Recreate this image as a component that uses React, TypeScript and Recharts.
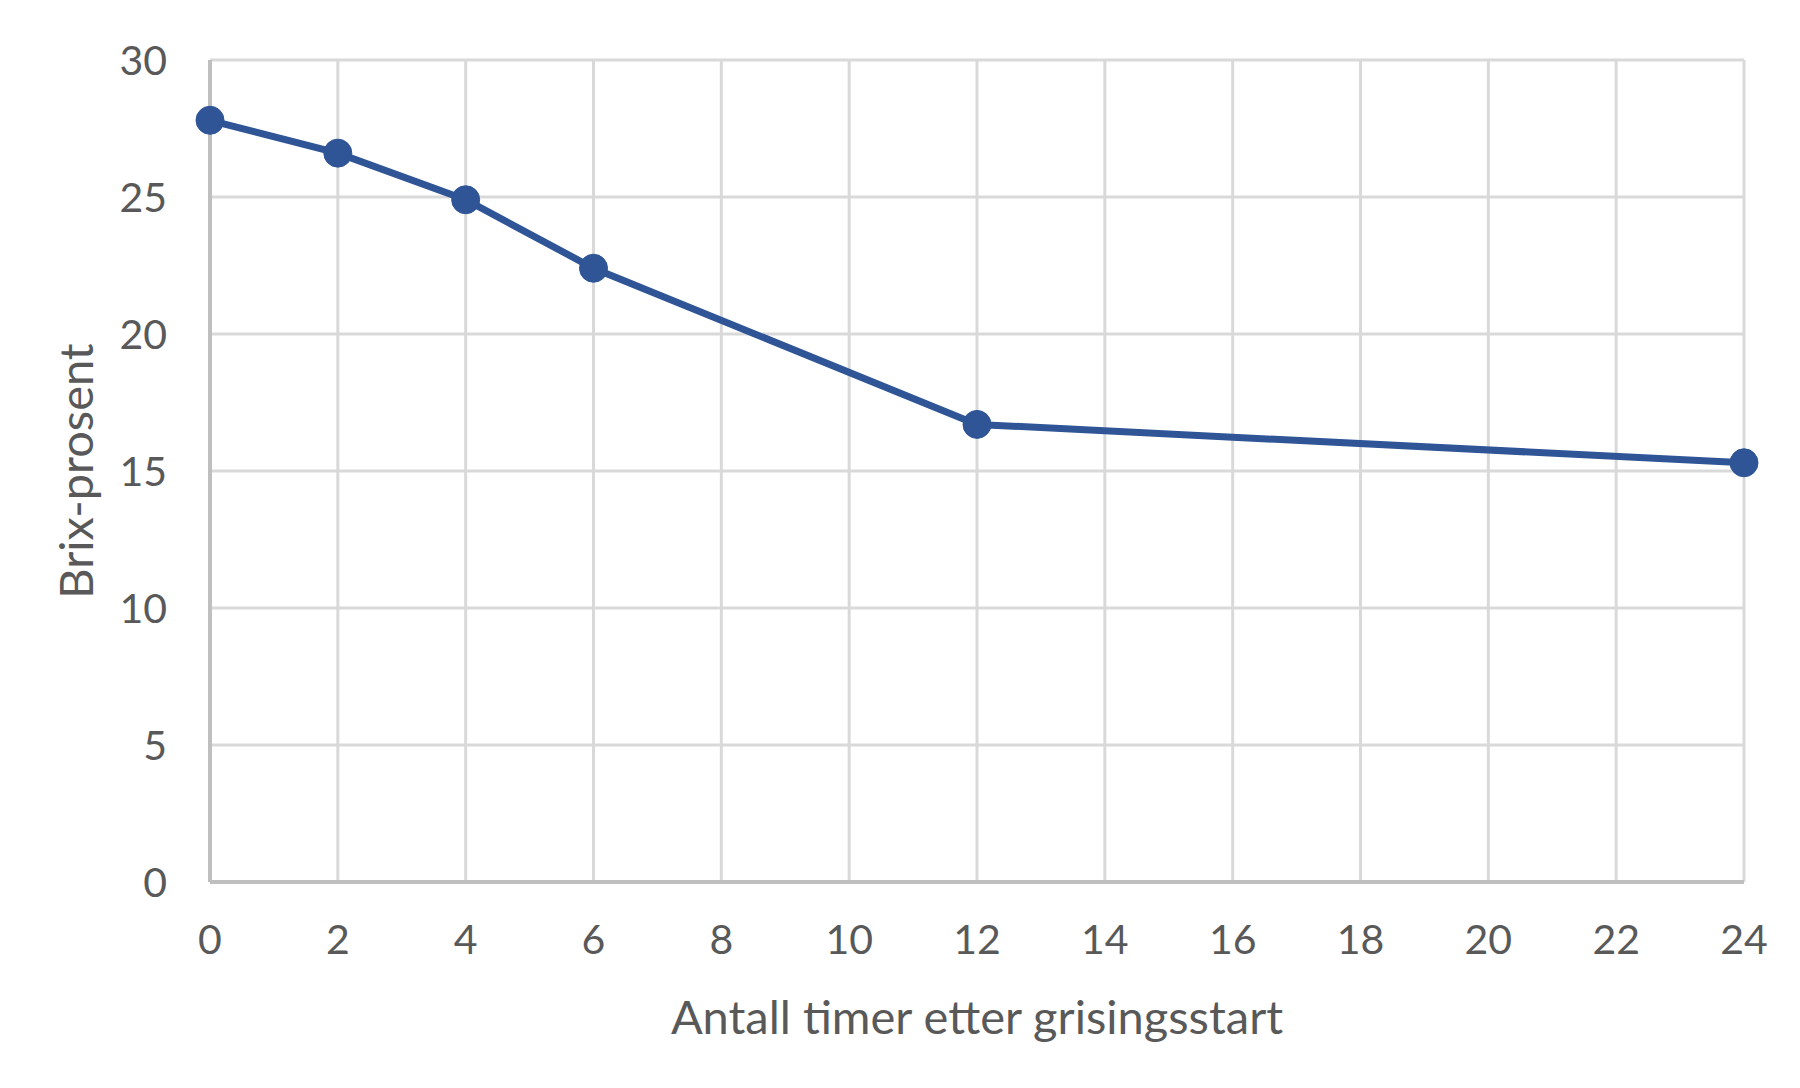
import { LineChart, Line, XAxis, YAxis, CartesianGrid, Label } from 'recharts';

const hours = [0, 2, 4, 6, 12, 24];
const brix = [27.8, 26.6, 24.9, 22.4, 16.7, 15.3];
const xTicks = [0, 2, 4, 6, 8, 10, 12, 14, 16, 18, 20, 22, 24];
const yTicks = [0, 5, 10, 15, 20, 25, 30];

const data = hours.map((h, i) => ({ hour: h, brix: brix[i] }));

const textColor = '#595959';
const font = 'Lato, "Noto Sans", sans-serif';

export default function App() {
  return (
    <div style={{ position: 'absolute', left: 0, top: 0, width: 1800, height: 1088, background: '#fff' }}>
      <LineChart width={1800} height={1088} data={data} margin={{ top: 60, right: 56, bottom: 0, left: 0 }}>
        <CartesianGrid stroke="#d9d9d9" strokeWidth={3} />
        <XAxis
          dataKey="hour"
          type="number"
          domain={[0, 24]}
          ticks={xTicks}
          height={206}
          tickSize={0}
          tickMargin={43}
          axisLine={{ stroke: '#bfbfbf', strokeWidth: 4 }}
          tickLine={false}
          tick={{ fontSize: 41, fill: textColor, fontFamily: font }}
        >
          <Label
            content={() => (
              <text x={977} y={1034} textAnchor="middle" fontSize={47} fill={textColor} fontFamily={font}>
                Antall timer etter grisingsstart
              </text>
            )}
          />
        </XAxis>
        <YAxis
          type="number"
          domain={[0, 30]}
          ticks={yTicks}
          width={210}
          tickSize={0}
          tickMargin={43}
          axisLine={{ stroke: '#bfbfbf', strokeWidth: 4 }}
          tickLine={false}
          tick={{ fontSize: 41, fill: textColor, fontFamily: font }}
        >
          <Label
            content={() => (
              <text
                x={0}
                y={0}
                transform="translate(93 471) rotate(-90)"
                textAnchor="middle"
                fontSize={47}
                fill={textColor}
                fontFamily={font}
              >
                Brix-prosent
              </text>
            )}
          />
        </YAxis>
        <Line
          type="linear"
          dataKey="brix"
          stroke="#2f5597"
          strokeWidth={7}
          dot={{ r: 14, fill: '#2f5597', stroke: '#2f5597', strokeWidth: 1 }}
          activeDot={false}
          isAnimationActive={false}
        />
      </LineChart>
    </div>
  );
}
